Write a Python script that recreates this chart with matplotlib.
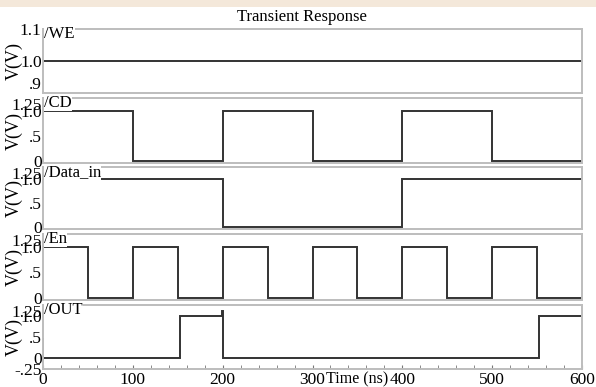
import matplotlib
matplotlib.use("Agg")
import matplotlib.pyplot as plt
import matplotlib.transforms as mtransforms
from matplotlib.patches import Rectangle

plt.rcParams['font.family'] = ['Liberation Serif', 'DejaVu Serif']

# signaux (temps en ns, tension en V) - points des paliers
we_t = [0, 600]
we_v = [1.0, 1.0]

cd_t = [0, 100, 100, 200, 200, 300, 300, 400, 400, 500, 500, 600]
cd_v = [1.0, 1.0, 0, 0, 1.0, 1.0, 0, 0, 1.0, 1.0, 0, 0]

data_t = [0, 200, 200, 400, 400, 600]
data_v = [1.0, 1.0, 0, 0, 1.0, 1.0]

en_t = [0, 50, 50, 100, 100, 150, 150, 200, 200, 250, 250, 300,
        300, 350, 350, 400, 400, 450, 450, 500, 500, 550, 550, 600]
en_v = [1.0, 1.0, 0, 0, 1.0, 1.0, 0, 0, 1.0, 1.0, 0, 0,
        1.0, 1.0, 0, 0, 1.0, 1.0, 0, 0, 1.0, 1.0, 0, 0]

out_t = [0, 0, 153, 153, 199.5, 199.5, 200, 200, 552, 552, 600]
out_v = [0.45, 0, 0, 1.0, 1.0, 1.1, 1.1, 0, 0, 1.0, 1.0]

names = ['/WE', '/CD', '/Data_in', '/En', '/OUT']
series = [(we_t, we_v), (cd_t, cd_v), (data_t, data_v), (en_t, en_v), (out_t, out_v)]
ylims = [(0.9, 1.1), (-0.04, 1.25), (-0.04, 1.25), (-0.04, 1.25), (-0.25, 1.25)]
yticks = [[0.9, 1.0, 1.1], [0, 0.5, 1.0, 1.25], [0, 0.5, 1.0, 1.25],
          [0, 0.5, 1.0, 1.25], [-0.25, 0, 0.5, 1.0, 1.25]]
yticklabels = [['.9', '1.0', '1.1'], ['0', '.5', '1.0', '1.25'], ['0', '.5', '1.0', '1.25'],
               ['0', '.5', '1.0', '1.25'], ['-.25', '0', '.5', '1.0', '1.25']]
xticks = [0, 100, 200, 300, 400, 500, 600]

W, H = 596, 387
fig = plt.figure(figsize=(W / 100, H / 100), dpi=100)

# bandeau beige en haut (fond de la photo)
fig.patches.append(Rectangle((0, 1 - 7 / H), 1, 7 / H, transform=fig.transFigure,
                             facecolor='#f4e8da', edgecolor='none'))

# positions des panneaux en pixels (haut, bas)
panels = [(29, 93), (98, 163), (167, 229), (234, 300), (305, 369)]
x0, x1 = 43, 582

frame_col = '#bdbdbd'
line_col = '#333333'

for i, ((top, bot), (t, v)) in enumerate(zip(panels, series)):
    ax = fig.add_axes([x0 / W, (H - bot) / H, (x1 - x0) / W, (bot - top) / H])
    ax.plot(t, v, color=line_col, lw=1.4, solid_joinstyle='miter')
    ax.set_xlim(0, 600)
    ax.set_ylim(*ylims[i])
    for s in ax.spines.values():
        s.set_color(frame_col)
        s.set_linewidth(1.4)
    ax.set_yticks(yticks[i])
    ax.set_yticklabels(yticklabels[i], fontsize=12.5)
    ax.tick_params(axis='y', length=0, pad=1)
    labs = ax.get_yticklabels()
    if i == 0:
        labs[0].set_verticalalignment('bottom')
    else:
        labs[-1].set_verticalalignment('top')
    ax.set_ylabel('V(V)', fontsize=13)
    ax.yaxis.set_label_coords(-0.037, 0.5)
    off = mtransforms.offset_copy(ax.transAxes, fig=fig, x=1, y=3, units='dots')
    ax.text(0, 1, names[i], transform=off, fontsize=12, va='top', ha='left',
            bbox=dict(facecolor='white', edgecolor='none', pad=0), zorder=5)
    if i < 4:
        ax.set_xticks([])
    else:
        ax.set_xticks(xticks)
        ax.set_xticks(range(0, 601, 20), minor=True)
        ax.set_xticklabels([str(x) for x in xticks], fontsize=12.5)
        ax.tick_params(axis='x', which='both', direction='in', length=3,
                       color='#777777', pad=2)
        ax.text(350, -0.045, 'Time (ns)', transform=ax.get_xaxis_transform(),
                fontsize=11.5, ha='center', va='top')

fig.text(0.507, 1 - 17 / H, 'Transient Response', ha='center', va='center', fontsize=12)

fig.savefig('out.png', dpi=100)
